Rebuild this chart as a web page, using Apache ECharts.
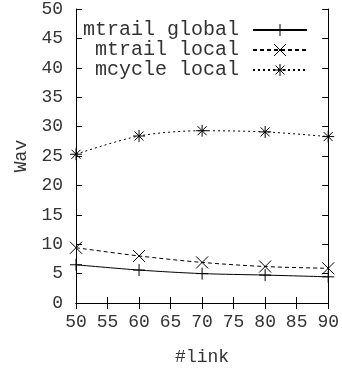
<!DOCTYPE html>
<html>
<head>
<meta charset="utf-8">
<script src="https://cdn.jsdelivr.net/npm/echarts@6/dist/echarts.min.js"></script>
<style>
  html, body { margin: 0; padding: 0; background: #fff; }
  #chart { width: 342px; height: 371px; }
</style>
</head>
<body>
<div id="chart"></div>
<script>
// values
const links = [50, 60, 70, 80, 90]
const mtrailGlobal = [6.5, 5.6, 5.0, 4.75, 4.45]
const mtrailLocal = [9.4, 8.0, 6.9, 6.2, 5.9]
const mcycleLocal = [25.3, 28.4, 29.3, 29.1, 28.3]

const FONT = 'Liberation Mono'
const INK = '#333'

const PLUS = 'path://M0,6L12,6M6,0L6,12'
const CROSS = 'path://M0,0L12,12M12,0L0,12'
const STAR = 'path://M0,6L12,6M6,0L6,12M1.5,1.5L10.5,10.5M10.5,1.5L1.5,10.5'

const pairs = ys => links.map((x, i) => [x, ys[i]])

const chart = echarts.init(document.getElementById('chart'))

function makeSeries(name, ys, symbol, dash) {
  return {
    name,
    type: 'line',
    data: pairs(ys),
    smooth: 0.3,
    symbol,
    symbolSize: 12,
    lineStyle: { color: '#000', width: 1, type: dash },
    itemStyle: { color: 'none', borderColor: '#000', borderWidth: 1 },
    emphasis: { disabled: true },
  }
}

const hiddenAxis = {
  axisLine: { lineStyle: { color: '#000', width: 1 } },
  axisTick: { inside: true, length: 6, lineStyle: { color: '#000' } },
  axisLabel: { show: false },
  splitLine: { show: false },
}

chart.setOption({
  animation: false,
  textStyle: { fontFamily: FONT },
  grid: { left: 76, right: 11, top: 8, bottom: 67 },
  legend: {
    orient: 'vertical',
    left: 74,
    top: 15,
    align: 'right',
    itemWidth: 54,
    itemHeight: 15,
    itemGap: 0,
    itemStyle: { color: 'none', borderColor: '#000', borderWidth: 1 },
    textStyle: {
      fontFamily: FONT,
      fontSize: 20,
      color: INK,
      width: 160,
      align: 'right',
      lineHeight: 20,
      padding: [0, 9, 0, 0],
    },
    data: ['mtrail global', 'mtrail local', 'mcycle local'],
  },
  xAxis: [
    {
      type: 'value',
      min: 50,
      max: 90,
      interval: 5,
      name: '#link',
      nameLocation: 'middle',
      nameGap: 45,
      nameTextStyle: { fontFamily: FONT, fontSize: 18, color: INK },
      axisLine: { lineStyle: { color: '#000', width: 1 } },
      axisTick: { inside: true, length: 6, lineStyle: { color: '#000' } },
      axisLabel: { fontFamily: FONT, fontSize: 18, color: INK, margin: 10 },
      splitLine: { show: false },
    },
    { type: 'value', position: 'top', min: 50, max: 90, interval: 5, ...hiddenAxis },
  ],
  yAxis: [
    {
      type: 'value',
      min: 0,
      max: 50,
      interval: 5,
      name: 'Wav',
      nameLocation: 'middle',
      nameGap: 45,
      nameTextStyle: { fontFamily: FONT, fontSize: 18, color: INK },
      axisLine: { show: true, lineStyle: { color: '#000', width: 1 } },
      axisTick: { show: true, inside: true, length: 6, lineStyle: { color: '#000' } },
      axisLabel: { fontFamily: FONT, fontSize: 18, color: INK, margin: 13 },
      splitLine: { show: false },
    },
    {
      type: 'value',
      position: 'right',
      min: 0,
      max: 50,
      interval: 5,
      ...hiddenAxis,
      axisLine: { show: true, lineStyle: { color: '#000', width: 1 } },
      axisTick: { show: true, inside: true, length: 6, lineStyle: { color: '#000' } },
    },
  ],
  series: [
    makeSeries('mtrail global', mtrailGlobal, PLUS, 'solid'),
    makeSeries('mtrail local', mtrailLocal, CROSS, [4, 3]),
    makeSeries('mcycle local', mcycleLocal, STAR, [2, 3]),
  ],
})
</script>
</body>
</html>
